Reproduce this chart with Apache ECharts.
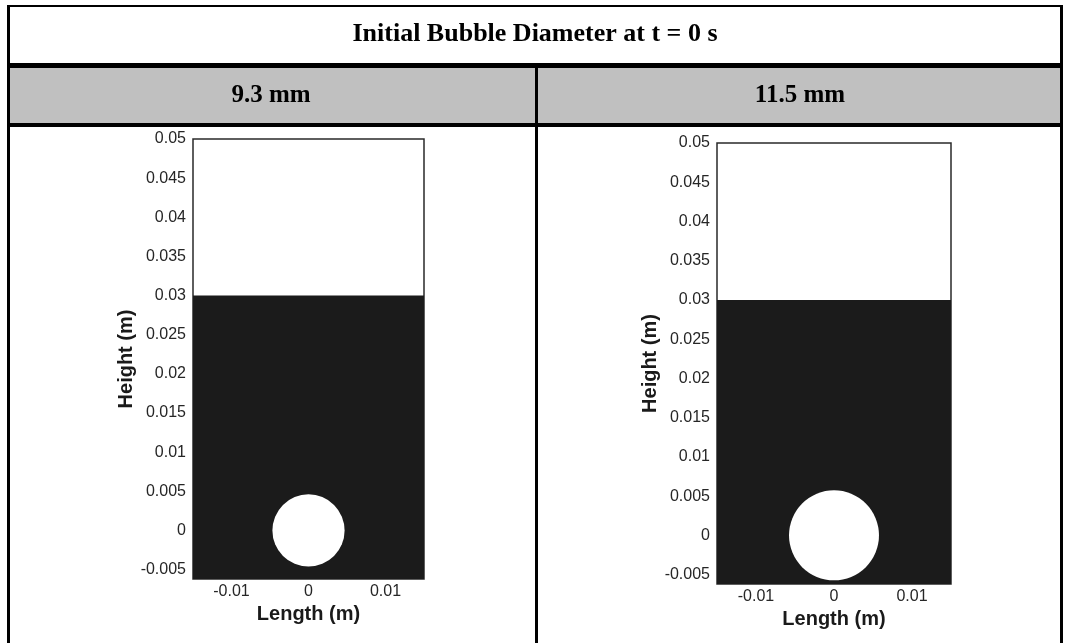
<!DOCTYPE html>
<html>
<head>
<meta charset="utf-8">
<script src="https://cdn.jsdelivr.net/npm/echarts@6/dist/echarts.min.js"></script>
<style>
  html, body { margin: 0; padding: 0; background: #ffffff; }
  #chart { width: 1068px; height: 643px; }
</style>
</head>
<body>
<div id="chart"></div>
<script>
// ---- data ----
const tableTitle = 'Initial Bubble Diameter at t = 0 s';
const panelTitles = ['9.3 mm', '11.5 mm'];
const bubbleDiameters = [0.0093, 0.0115];   // m
const bubbleCenterX = [0, 0];               // m
const bubbleCenterY = [0, 0];               // m
const liquidLevels = [0.03, 0.03];          // m
const domainX = [-0.015, 0.015];            // m
const domainY = [-0.0062, 0.05];            // m
const xTickValues = [-0.01, 0, 0.01];
const yTickValues = [-0.005, 0, 0.005, 0.01, 0.015, 0.02, 0.025, 0.03, 0.035, 0.04, 0.045, 0.05];
const xAxisName = 'Length (m)';
const yAxisName = 'Height (m)';

// ---- styles ----
const FILL = '#1b1b1b';
const LABEL = '#262626';
const fmt = v => String(+v.toFixed(4));

const grids = [
  { left: 193, top: 139, width: 231, height: 440 },
  { left: 717, top: 143, width: 234, height: 441 }
];

const xAxes = [], yAxes = [], series = [];
grids.forEach((g, i) => {
  xAxes.push({
    type: 'value', gridIndex: i, min: domainX[0], max: domainX[1],
    axisLine: { show: false }, axisTick: { show: false }, splitLine: { show: false },
    axisLabel: { customValues: xTickValues, formatter: fmt, color: LABEL, fontFamily: 'Liberation Sans', fontSize: 16, margin: 5 },
    name: xAxisName, nameLocation: 'middle', nameGap: i === 0 ? 22 : 23,
    nameTextStyle: { color: '#1a1a1a', fontFamily: 'Liberation Sans', fontWeight: 'bold', fontSize: 20 }
  });
  yAxes.push({
    type: 'value', gridIndex: i, min: domainY[0], max: domainY[1],
    axisLine: { show: false }, axisTick: { show: false }, splitLine: { show: false },
    axisLabel: { customValues: yTickValues, formatter: fmt, color: LABEL, fontFamily: 'Liberation Sans', fontSize: 16, margin: 7 },
    name: yAxisName, nameLocation: 'middle', nameRotate: 90, nameGap: i === 0 ? 52 : 54,
    nameTextStyle: { color: '#1a1a1a', fontFamily: 'Liberation Sans', fontWeight: 'bold', fontSize: 20 }
  });
  // liquid column
  series.push({
    type: 'custom', xAxisIndex: i, yAxisIndex: i, clip: true, silent: true,
    data: [[domainX[0], domainX[1], domainY[0], liquidLevels[i]]],
    encode: { x: [0, 1], y: [2, 3] },
    renderItem: (params, api) => {
      const p0 = api.coord([api.value(0), api.value(3)]);
      const p1 = api.coord([api.value(1), api.value(2)]);
      return { type: 'rect', shape: { x: p0[0], y: p0[1], width: p1[0] - p0[0], height: p1[1] - p0[1] }, style: { fill: FILL } };
    }
  });
  // bubble
  series.push({
    type: 'custom', xAxisIndex: i, yAxisIndex: i, clip: true, silent: true, z: 3,
    data: [[bubbleCenterX[i], bubbleCenterY[i], bubbleDiameters[i]]],
    encode: { x: 0, y: 1 },
    renderItem: (params, api) => {
      const c = api.coord([api.value(0), api.value(1)]);
      const s = api.size([api.value(2), api.value(2)]);
      return { type: 'circle', shape: { cx: c[0], cy: c[1], r: (s[0] + s[1]) / 4 }, style: { fill: '#ffffff' } };
    }
  });
});

const BLACK = '#000000';
const option = {
  animation: false,
  backgroundColor: '#ffffff',
  grid: grids.map(g => Object.assign({ show: true, backgroundColor: '#ffffff', borderColor: '#2a2a2a', borderWidth: 1.5 }, g)),
  xAxis: xAxes,
  yAxis: yAxes,
  series: series,
  graphic: [
    { type: 'rect', shape: { x: 10, y: 68, width: 1050, height: 55 }, style: { fill: '#c0c0c0' }, z: 0 },
    { type: 'rect', shape: { x: 7, y: 5, width: 1056, height: 2 }, style: { fill: BLACK }, z: 1 },
    { type: 'rect', shape: { x: 7, y: 63, width: 1056, height: 5 }, style: { fill: BLACK }, z: 1 },
    { type: 'rect', shape: { x: 7, y: 123, width: 1056, height: 4 }, style: { fill: BLACK }, z: 1 },
    { type: 'rect', shape: { x: 7, y: 5, width: 3, height: 640 }, style: { fill: BLACK }, z: 1 },
    { type: 'rect', shape: { x: 1060, y: 5, width: 3, height: 640 }, style: { fill: BLACK }, z: 1 },
    { type: 'rect', shape: { x: 535, y: 68, width: 3, height: 577 }, style: { fill: BLACK }, z: 1 },
    { type: 'text', x: 535, y: 34, z: 2, style: { text: tableTitle, align: 'center', verticalAlign: 'middle', fill: '#000', font: 'bold 26px "Liberation Serif"' } },
    { type: 'text', x: 271, y: 96, z: 2, style: { text: panelTitles[0], align: 'center', verticalAlign: 'middle', fill: '#000', font: 'bold 25px "Liberation Serif"' } },
    { type: 'text', x: 800, y: 96, z: 2, style: { text: panelTitles[1], align: 'center', verticalAlign: 'middle', fill: '#000', font: 'bold 25px "Liberation Serif"' } }
  ]
};

const chart = echarts.init(document.getElementById('chart'), null, { renderer: 'canvas' });
chart.setOption(option);
</script>
</body>
</html>
